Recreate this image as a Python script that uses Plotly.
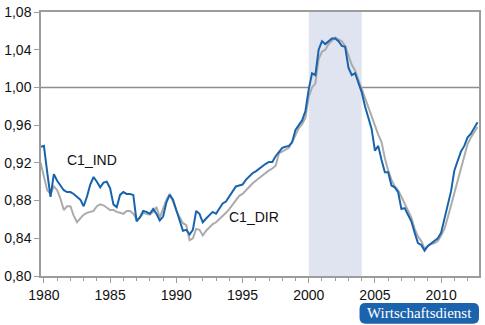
import plotly.graph_objects as go

# Quarterly observations, 1979 Q4 to 2012 Q4
start_year = 1979.75
c1_ind = [
    0.937, 0.938, 0.910, 0.884, 0.908, 0.901, 0.896, 0.891, 0.889, 0.889,
    0.887, 0.884, 0.881, 0.874, 0.884, 0.897, 0.905, 0.900, 0.894, 0.899,
    0.900, 0.893, 0.876, 0.873, 0.886, 0.889, 0.887, 0.887, 0.886, 0.858,
    0.862, 0.869, 0.868, 0.866, 0.871, 0.866, 0.859, 0.863, 0.878, 0.886,
    0.881, 0.870, 0.860, 0.848, 0.849, 0.844, 0.849, 0.869, 0.866, 0.857,
    0.861, 0.865, 0.868, 0.866, 0.871, 0.877, 0.879, 0.884, 0.890, 0.895,
    0.896, 0.897, 0.902, 0.906, 0.909, 0.911, 0.914, 0.917, 0.919, 0.921,
    0.921, 0.927, 0.932, 0.936, 0.937, 0.938, 0.942, 0.955, 0.960, 0.965,
    0.975, 0.998, 1.015, 1.013, 1.040, 1.049, 1.046, 1.049, 1.052, 1.052,
    1.049, 1.044, 1.043, 1.021, 1.013, 1.015, 1.005, 0.995, 0.980, 0.969,
    0.956, 0.933, 0.938, 0.923, 0.910, 0.910, 0.896, 0.894, 0.889, 0.871,
    0.872, 0.865, 0.858, 0.846, 0.835, 0.833, 0.827, 0.832, 0.835, 0.838,
    0.840, 0.846, 0.861, 0.875, 0.890, 0.912, 0.922, 0.932, 0.938, 0.947,
    0.951, 0.957, 0.963,
]
c1_dir = [
    0.920, 0.905, 0.891, 0.887, 0.895, 0.891, 0.882, 0.870, 0.874, 0.874,
    0.864, 0.857, 0.861, 0.865, 0.867, 0.868, 0.869, 0.874, 0.876, 0.875,
    0.872, 0.870, 0.870, 0.868, 0.867, 0.866, 0.869, 0.869, 0.866, 0.860,
    0.862, 0.867, 0.866, 0.865, 0.868, 0.873, 0.862, 0.872, 0.881, 0.887,
    0.879, 0.869, 0.862, 0.856, 0.854, 0.838, 0.840, 0.850, 0.849, 0.843,
    0.848, 0.852, 0.855, 0.857, 0.860, 0.863, 0.867, 0.871, 0.876, 0.881,
    0.885, 0.887, 0.891, 0.894, 0.898, 0.901, 0.904, 0.907, 0.910, 0.912,
    0.914, 0.917, 0.930, 0.932, 0.934, 0.936, 0.942, 0.950, 0.957, 0.961,
    0.968, 0.990, 1.000, 1.004, 1.030, 1.038, 1.040, 1.046, 1.050, 1.053,
    1.051, 1.049, 1.044, 1.035, 1.024, 1.018, 1.008, 0.998, 0.988, 0.978,
    0.969, 0.959, 0.950, 0.942, 0.925, 0.912, 0.902, 0.895, 0.891, 0.884,
    0.877, 0.870, 0.862, 0.850, 0.842, 0.837, 0.829, 0.832, 0.834, 0.835,
    0.837, 0.843, 0.850, 0.862, 0.875, 0.887, 0.903, 0.916, 0.929, 0.940,
    0.947, 0.952, 0.958,
]
quarters = [start_year + 0.25 * i for i in range(len(c1_ind))]

shade_period = (2000, 2004)
y_ticks = [0.80, 0.84, 0.88, 0.92, 0.96, 1.00, 1.04, 1.08]
x_ticks = [1980, 1985, 1990, 1995, 2000, 2005, 2010]

BLUE = "#1863ad"
GREY = "#ababab"
AXIS = "#9c9c9c"
FONT = "Liberation Sans, Arial, sans-serif"

fig = go.Figure()
fig.add_trace(go.Scatter(x=quarters, y=c1_dir, mode="lines", name="C1_DIR",
                         line=dict(color=GREY, width=2)))
fig.add_trace(go.Scatter(x=quarters, y=c1_ind, mode="lines", name="C1_IND",
                         line=dict(color=BLUE, width=2)))

# shaded period
fig.add_shape(type="rect", xref="x", yref="y", x0=shade_period[0], x1=shade_period[1],
              y0=0.80, y1=1.08, fillcolor="#dfe4f0", line_width=0, layer="below")
# reference line at 1,00
fig.add_shape(type="line", xref="paper", yref="y", x0=0, x1=1, y0=1.0, y1=1.0,
              line=dict(color="#8e8e8e", width=1.5), layer="below")

# series labels
fig.add_annotation(x=1983.6, y=0.9226, text="C1_IND", showarrow=False,
                   font=dict(family=FONT, size=14, color="#111"))
fig.add_annotation(x=1995.85, y=0.8623, text="C1_DIR", showarrow=False,
                   font=dict(family=FONT, size=14, color="#111"))

# publisher badge below the plot (rounded rectangle in paper units)
L, R, T, B = 41, 481, 11, 276
def px(xp):
    return (xp - L) / (R - L)
def py(yp):
    return (B - yp) / (B - T)
bx0, bx1, by0, by1, r = 361, 481, 303, 324, 6
path = (
    f"M {px(bx0 + r)},{py(by0)} L {px(bx1 - r)},{py(by0)} "
    f"Q {px(bx1)},{py(by0)} {px(bx1)},{py(by0 + r)} "
    f"L {px(bx1)},{py(by1 - r)} Q {px(bx1)},{py(by1)} {px(bx1 - r)},{py(by1)} "
    f"L {px(bx0 + r)},{py(by1)} Q {px(bx0)},{py(by1)} {px(bx0)},{py(by1 - r)} "
    f"L {px(bx0)},{py(by0 + r)} Q {px(bx0)},{py(by0)} {px(bx0 + r)},{py(by0)} Z"
)
fig.add_shape(type="path", xref="paper", yref="paper", path=path,
              fillcolor="#1c63ae", line_width=0, layer="below")
fig.add_annotation(xref="paper", yref="paper", x=px((bx0 + bx1) / 2), y=py((by0 + by1) / 2),
                   xanchor="center", yanchor="middle",
                   text="Wirtschaftsdienst", showarrow=False,
                   font=dict(family="Liberation Serif, DejaVu Serif, serif", size=15, color="white"))

fig.update_layout(
    width=485, height=325,
    margin=dict(l=L, r=485 - R, t=T, b=325 - B),
    paper_bgcolor="white", plot_bgcolor="white",
    showlegend=False,
    separators=",.",
    font=dict(family=FONT, size=14, color="#111"),
    xaxis=dict(
        range=[1979.78, 2012.86], tickmode="array", tickvals=x_ticks,
        ticks="outside", ticklen=5, tickcolor=AXIS, tickwidth=1,
        minor=dict(dtick=1, tick0=1980, ticks="outside", ticklen=3, tickcolor=AXIS),
        showline=True, linecolor=AXIS, linewidth=1.5, mirror=True,
        showgrid=False, zeroline=False,
        tickfont=dict(family=FONT, size=14, color="#111"),
    ),
    yaxis=dict(
        range=[0.80, 1.08], tickmode="array", tickvals=y_ticks, tickformat=".2f",
        ticks="outside", ticklen=5, tickcolor=AXIS, tickwidth=1,
        showline=True, linecolor=AXIS, linewidth=1.5, mirror=True,
        showgrid=False, zeroline=False,
        tickfont=dict(family=FONT, size=14, color="#111"),
    ),
)

fig.write_html("out.html")
